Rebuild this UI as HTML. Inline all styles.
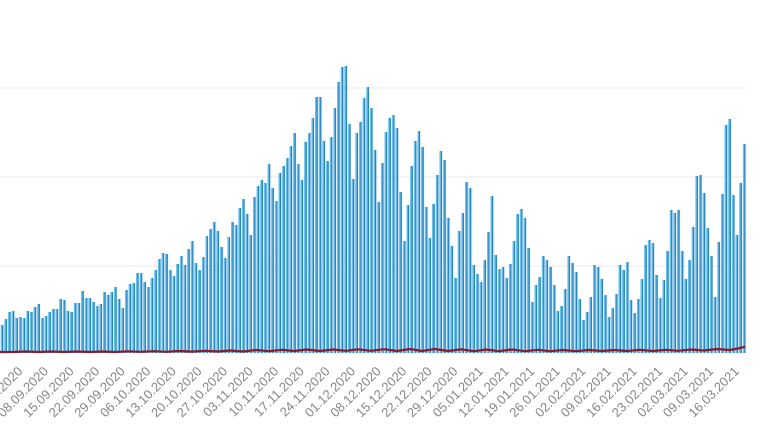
<!DOCTYPE html>
<html>
<head>
<meta charset="utf-8">
<style>
html,body{margin:0;padding:0;background:#fff;}
svg{display:block;}
text{font-family:"Liberation Sans",sans-serif;font-size:13px;fill:#858585;}
</style>
</head>
<body>
<svg width="770" height="432" viewBox="0 0 770 432" xmlns="http://www.w3.org/2000/svg">
<defs>
<clipPath id="bars">
<path d="M0.6,353
V325h3.656V319h3.656V312h3.656V311h3.656V318h3.656V317h3.656V318h3.656V311h3.656V312h3.656V307h3.656
V304h3.656V318h3.656V316h3.656V312h3.656V309h3.656V309h3.656V299h3.656V300h3.656V311h3.656V312h3.656
V303h3.656V303h3.656V291h3.656V298h3.656V298h3.656V302h3.656V306h3.656V304h3.656V292h3.656V295h3.656
V292h3.656V287h3.656V299h3.656V308h3.656V290h3.656V284h3.656V283h3.656V273h3.656V273h3.656V282h3.656
V287h3.656V278h3.656V270h3.656V259h3.656V253h3.656V254h3.656V270h3.656V276h3.656V264h3.656V256h3.656
V265h3.656V249h3.656V241h3.656V263h3.656V270h3.656V257h3.656V236h3.656V229h3.656V222h3.656V231h3.656
V247h3.656V258h3.656V237h3.656V222h3.656V225h3.656V208h3.656V199h3.656V214h3.656V235h3.656V197h3.656
V186h3.656V180h3.656V183h3.656V164h3.656V188h3.656V201h3.656V173h3.656V166h3.656V158h3.656V146h3.656
V133h3.656V164h3.656V180h3.656V142h3.656V133h3.656V118h3.656V97h3.656V97h3.656V141h3.656V161h3.656
V137h3.656V108h3.656V82h3.656V67h3.656V66h3.656V124h3.656V179h3.656V133h3.656V122h3.656V98h3.656
V87h3.656V108h3.656V150h3.656V202h3.656V163h3.656V132h3.656V118h3.656V115h3.656V128h3.656V192h3.656
V241h3.656V205h3.656V166h3.656V141h3.656V131h3.656V147h3.656V207h3.656V238h3.656V204h3.656V175h3.656
V151h3.656V160h3.656V218h3.656V246h3.656V278h3.656V231h3.656V213h3.656V182h3.656V188h3.656V265h3.656
V274h3.656V282h3.656V260h3.656V232h3.656V196h3.656V255h3.656V269h3.656V267h3.656V278h3.656V264h3.656
V241h3.656V214h3.656V209h3.656V218h3.656V248h3.656V302h3.656V285h3.656V277h3.656V256h3.656V260h3.656
V267h3.656V285h3.656V311h3.656V306h3.656V289h3.656V256h3.656V263h3.656V272h3.656V299h3.656V320h3.656
V312h3.656V297h3.656V265h3.656V267h3.656V279h3.656V295h3.656V317h3.656V308h3.656V294h3.656V265h3.656
V270h3.656V262h3.656V300h3.656V313h3.656V299h3.656V279h3.656V245h3.656V240h3.656V243h3.656V275h3.656
V298h3.656V280h3.656V251h3.656V210h3.656V213h3.656V210h3.656V251h3.656V279h3.656V260h3.656V227h3.656
V176h3.656V175h3.656V193h3.656V228h3.656V256h3.656V297h3.656V242h3.656V194h3.656V125h3.656V119h3.656
V195h3.656V235h3.656V183h3.656V144h3.656
V353Z"/>
</clipPath>
</defs>

<!-- gridlines -->
<g stroke="#e8e8e8" stroke-width="1">
<line x1="0" y1="88" x2="745" y2="88"/>
<line x1="0" y1="177" x2="745" y2="177"/>
<line x1="0" y1="266" x2="745" y2="266"/>
</g>

<!-- bars -->
<g clip-path="url(#bars)">
<line x1="0.6" y1="205" x2="750" y2="205" stroke="#6cc0ec" stroke-width="300" stroke-dasharray="1.5 2.156"/>
<line x1="2.0" y1="205" x2="750" y2="205" stroke="#2685c3" stroke-width="300" stroke-dasharray="1.4 2.256"/>
</g>

<!-- red line -->
<polyline fill="none" stroke="#8b1a2a" stroke-width="2.2" stroke-linejoin="round"
points="0,352 13,352 26,351.5 38,352 51,351.5 64,352 77,351.5 90,352 102,351.5 115,352 128,351.3 141,351.8 154,351.2 166,351.8 179,351 192,351.6 205,350.8 218,351.5 230,350.5 243,351.5 256,350 269,351.2 282,349.8 294,351 307,349.5 320,351 333,349.5 346,350.8 358,349.3 371,350.8 384,349.2 397,351 410,349 422,351 435,349 448,351 461,349.3 474,351.2 486,349.5 499,351.2 512,349.5 525,351.2 538,349.8 550,351.2 563,350 576,351.2 589,350 602,351 614,350 627,351 640,349.8 653,351 666,349.8 678,350.8 691,349.5 704,350.5 717,349 730,350 738,348.5 742,347.5 745,346.5"/>

<!-- x labels -->
<g text-anchor="end">
<text x="23.4" y="372" transform="rotate(-45 23.4 372)">01.09.2020</text>
<text x="49.0" y="372" transform="rotate(-45 49.0 372)">08.09.2020</text>
<text x="74.6" y="372" transform="rotate(-45 74.6 372)">15.09.2020</text>
<text x="100.2" y="372" transform="rotate(-45 100.2 372)">22.09.2020</text>
<text x="125.8" y="372" transform="rotate(-45 125.8 372)">29.09.2020</text>
<text x="151.4" y="372" transform="rotate(-45 151.4 372)">06.10.2020</text>
<text x="176.9" y="372" transform="rotate(-45 176.9 372)">13.10.2020</text>
<text x="202.5" y="372" transform="rotate(-45 202.5 372)">20.10.2020</text>
<text x="228.1" y="372" transform="rotate(-45 228.1 372)">27.10.2020</text>
<text x="253.7" y="372" transform="rotate(-45 253.7 372)">03.11.2020</text>
<text x="279.3" y="372" transform="rotate(-45 279.3 372)">10.11.2020</text>
<text x="304.9" y="372" transform="rotate(-45 304.9 372)">17.11.2020</text>
<text x="330.5" y="372" transform="rotate(-45 330.5 372)">24.11.2020</text>
<text x="356.1" y="372" transform="rotate(-45 356.1 372)">01.12.2020</text>
<text x="381.7" y="372" transform="rotate(-45 381.7 372)">08.12.2020</text>
<text x="407.3" y="372" transform="rotate(-45 407.3 372)">15.12.2020</text>
<text x="432.8" y="372" transform="rotate(-45 432.8 372)">22.12.2020</text>
<text x="458.4" y="372" transform="rotate(-45 458.4 372)">29.12.2020</text>
<text x="484.0" y="372" transform="rotate(-45 484.0 372)">05.01.2021</text>
<text x="509.6" y="372" transform="rotate(-45 509.6 372)">12.01.2021</text>
<text x="535.2" y="372" transform="rotate(-45 535.2 372)">19.01.2021</text>
<text x="560.8" y="372" transform="rotate(-45 560.8 372)">26.01.2021</text>
<text x="586.4" y="372" transform="rotate(-45 586.4 372)">02.02.2021</text>
<text x="612.0" y="372" transform="rotate(-45 612.0 372)">09.02.2021</text>
<text x="637.6" y="372" transform="rotate(-45 637.6 372)">16.02.2021</text>
<text x="663.2" y="372" transform="rotate(-45 663.2 372)">23.02.2021</text>
<text x="688.7" y="372" transform="rotate(-45 688.7 372)">02.03.2021</text>
<text x="714.3" y="372" transform="rotate(-45 714.3 372)">09.03.2021</text>
<text x="739.9" y="372" transform="rotate(-45 739.9 372)">16.03.2021</text>
</g>
</svg>
</body>
</html>
